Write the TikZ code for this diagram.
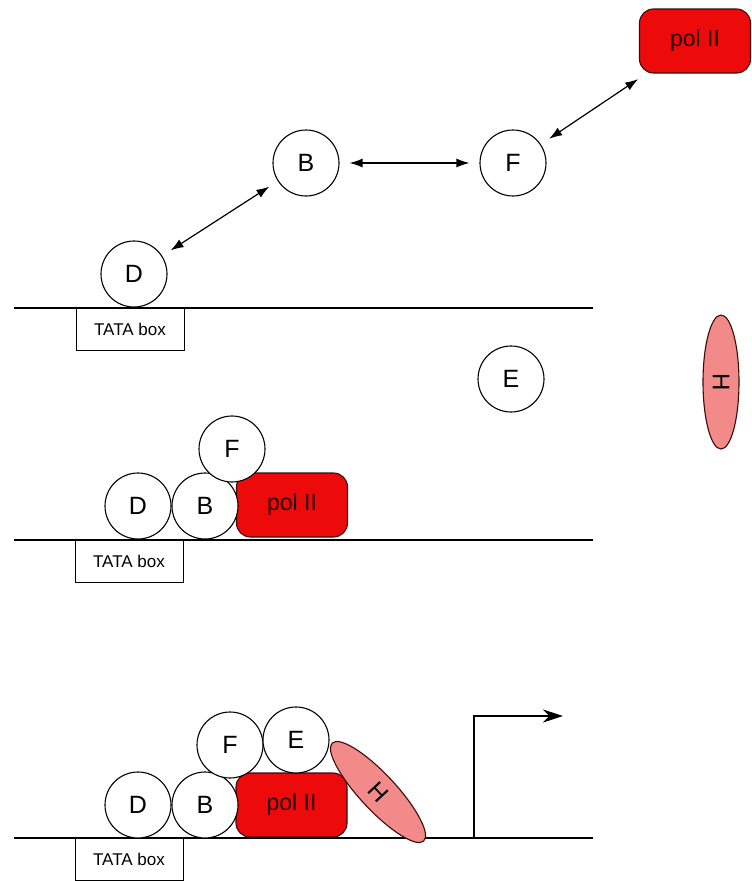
\documentclass[tikz,border=0pt]{standalone}
\usepackage{fontspec}
\setmainfont{Liberation Sans}
\usetikzlibrary{arrows.meta,shapes.geometric}
\definecolor{polred}{RGB}{236,10,10}
\definecolor{hpink}{RGB}{242,138,138}
\definecolor{edgedark}{RGB}{60,10,10}
\begin{document}
\begin{tikzpicture}[x=1pt,y=-1pt,
 prot/.style={circle,draw,fill=white,line width=1.1pt,minimum size=66pt,inner sep=0pt,font=\fontsize{25}{25}\selectfont},
 pol/.style={rectangle,rounded corners=14pt,draw=edgedark,line width=1.1pt,fill=polred,minimum width=111pt,minimum height=64pt,inner sep=0pt,text=black!85!red,font=\fontsize{23}{23}\selectfont},
 hel/.style={ellipse,draw=edgedark,line width=1.1pt,fill=hpink,minimum width=134pt,minimum height=36pt,inner sep=0pt,font=\fontsize{24}{24}\selectfont},
 tata/.style={rectangle,draw,line width=0.8pt,minimum width=108pt,minimum height=42pt,inner sep=0pt,font=\fontsize{17}{17}\selectfont},
 dna/.style={line width=2.6pt},
 link/.style={line width=1.2pt,{Latex[length=13pt,width=9pt]}-{Latex[length=13pt,width=9pt]},shorten <=10pt,shorten >=10pt}
]
\path[use as bounding box] (0,0) rectangle (752,881);

% ---- panel 1 ----
\coordinate (L1a) at (14,308);
\coordinate (L1b) at (593,308);
\draw[dna] (L1a) -- (L1b);
\node[tata] (T1) at (130,329) {TATA box};
\node[prot] (D1) at (134,274) {D};
\node[prot] (B1) at (306,163) {B};
\node[prot] (F1) at (513,163) {F};
\node[pol] (P1) at (695,41) {pol II};
\draw[link] (D1) -- (B1);
\draw[link] (B1) -- (F1);
\draw[link] (F1) -- (P1);

% free factors
\node[prot] (E2) at (511,379) {E};
\node[hel,rotate=-90] (H2) at (721,382) {H};

% ---- panel 2 ----
\coordinate (L2a) at (14,540);
\coordinate (L2b) at (593,540);
\draw[dna] (L2a) -- (L2b);
\node[tata] (T2) at (129,561) {TATA box};
\node[pol] (P2) at (292,505) {pol II};
\node[prot] (D2) at (138,506) {D};
\node[prot] (B2) at (205,506) {B};
\node[prot] (F2) at (232,449) {F};

% ---- panel 3 ----
\coordinate (L3a) at (14,838);
\coordinate (L3b) at (593,838);
\draw[dna] (L3a) -- (L3b);
\node[tata] (T3) at (129,859) {TATA box};
\node[pol] (P3) at (291.5,805) {pol II};
\node[prot] (D3) at (138,805) {D};
\node[prot] (B3) at (205,805) {B};
\node[prot] (F3) at (230,745) {F};
\node[prot] (E3) at (296,740) {E};
\node[hel,rotate=-47] (H3) at (378,792) {H};
\coordinate (S0) at (474,838);
\coordinate (S1) at (474,716);
\coordinate (S2) at (563,716);
\draw[line width=2.2pt,-{Stealth[length=20pt,width=13pt]}] (S0) -- (S1) -- (S2);
\end{tikzpicture}
\end{document}
